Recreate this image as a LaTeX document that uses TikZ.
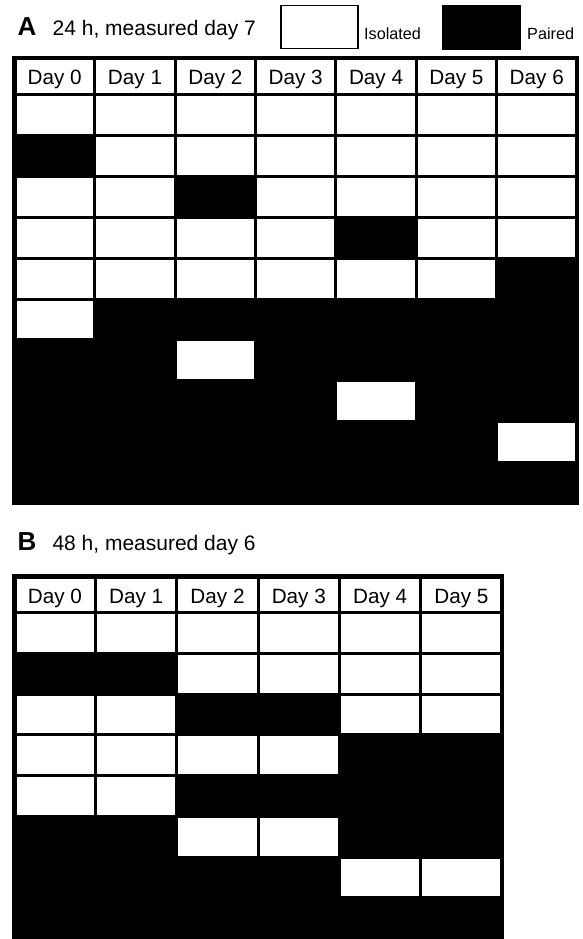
\documentclass[tikz,border=0pt]{standalone}
\usepackage{fontspec}
\setmainfont{Liberation Sans}
\begin{document}
\begin{tikzpicture}[x=1pt, y=-1pt,
  panel/.style={font=\fontsize{26}{26}\selectfont\bfseries, anchor=base west, inner sep=0pt},
  caption/.style={font=\fontsize{21}{22}\selectfont, anchor=base west, inner sep=0pt},
  legend/.style={font=\fontsize{16.2}{17}\selectfont, anchor=base west, inner sep=0pt},
  day/.style={font=\fontsize{20.7}{21}\selectfont, anchor=base, inner sep=0pt},
  keybox/.style={minimum width=77pt, minimum height=43pt, inner sep=0pt},
  frame/.style={line width=4.5pt}]
  \useasboundingbox (0,0) rectangle (582,939);

  % A: 24 h
  \node[panel] (labA) at (17.5,36) {A};
  \node[caption] (capA) at (52.5,36) {24 h, measured day 7};
  \node[keybox, draw, line width=1.5pt, fill=white] (isobox) at (319.5,27) {};
  \node[legend] (iso) at (364,39.5) {Isolated};
  \node[keybox, fill=black, minimum width=79pt, minimum height=44.5pt] (pairbox) at (481.5,27.3) {};
  \node[legend] (pair) at (527,39.5) {Paired};

  \fill (12,55.75) rectangle (579.2,505.25);
  \foreach \d in {0,...,6} {
    \fill[white] ({14.5+80.35*\d+1.5},59.5) rectangle ++(77.35,34);
    \node[day] (A-h\d) at ({14.5+80.35*(\d+0.5)},85) {Day \d};
  }
  \foreach \cells [count=\r] in {{0,0,0,0,0,0,0},{1,0,0,0,0,0,0},{0,0,1,0,0,0,0},
      {0,0,0,0,1,0,0},{0,0,0,0,0,0,1},{0,1,1,1,1,1,1},{1,1,0,1,1,1,1},
      {1,1,1,1,0,1,1},{1,1,1,1,1,1,0},{1,1,1,1,1,1,1}} {
    \foreach \v [count=\c from 0] in \cells {
      \ifnum\v=0
        \fill[white] ({14.5+80.35*\c+1.5},{95+40.8*(\r-1)+1.5}) rectangle ++(77.35,37.8);
      \fi
    }
  }
  \draw[frame] (14.5,58) rectangle (576.95,503);

  % B: 48 h
  \node[panel] (labB) at (17.5,550.3) {B};
  \node[caption] (capB) at (52.3,550.3) {48 h, measured day 6};

  \fill (12,574.25) rectangle (504.3,940);
  \foreach \d in {0,...,5} {
    \fill[white] ({14.25+81.3*\d+1.5},578) rectangle ++(78.3,33.3);
    \node[day] (B-h\d) at ({14.25+81.3*(\d+0.5)},603.3) {Day \d};
  }
  \foreach \cells [count=\r] in {{0,0,0,0,0,0},{1,1,0,0,0,0},{0,0,1,1,0,0},
      {0,0,0,0,1,1},{0,0,1,1,1,1},{1,1,0,0,1,1},{1,1,1,1,0,0},{1,1,1,1,1,1}} {
    \foreach \v [count=\c from 0] in \cells {
      \ifnum\v=0
        \fill[white] ({14.25+81.3*\c+1.5},{612.8+40.7*(\r-1)+1.5}) rectangle ++(78.3,37.7);
      \fi
    }
  }
  \draw[frame] (14.25,576.5) rectangle (502.05,938.4);
\end{tikzpicture}
\end{document}
